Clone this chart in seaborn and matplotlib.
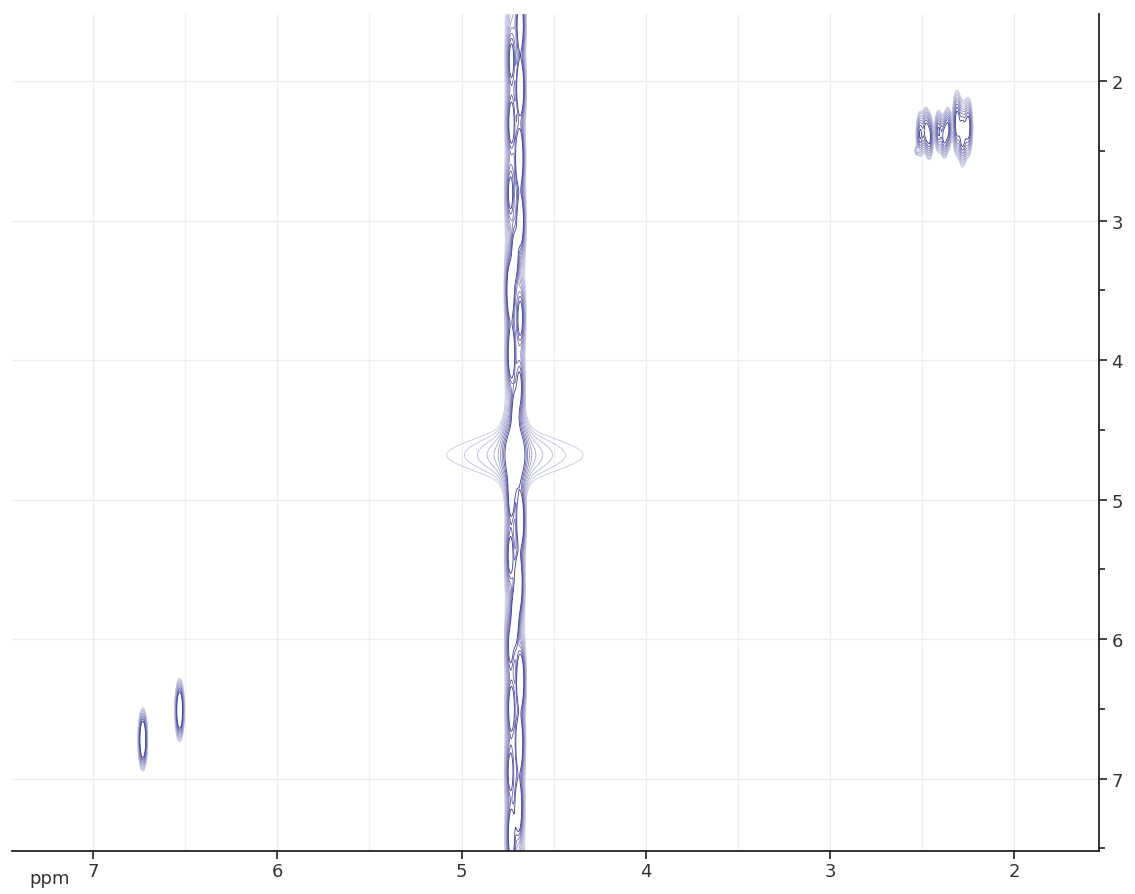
import numpy as np
import matplotlib
matplotlib.use("Agg")
from matplotlib import pyplot as plt
from matplotlib.colors import LinearSegmentedColormap
from matplotlib.ticker import MultipleLocator
import seaborn as sns

sns.set_style("white")
plt.rcParams['font.family'] = ['DejaVu Sans']

# Cross peaks (F2 ppm, F1 ppm, sigma F2, sigma F1, height)
peak_x = [6.73, 6.53,
          2.51, 2.48, 2.46, 2.41, 2.38, 2.36, 2.31, 2.28, 2.25, 2.53]
peak_y = [6.72, 6.51,
          2.38, 2.35, 2.40, 2.36, 2.40, 2.34, 2.30, 2.38, 2.33, 2.50]
peak_sx = [0.011, 0.011,
           0.011, 0.011, 0.011, 0.011, 0.011, 0.011, 0.012, 0.012, 0.012, 0.006]
peak_sy = [0.093, 0.093,
           0.08, 0.08, 0.08, 0.075, 0.075, 0.075, 0.11, 0.11, 0.1, 0.02]
peak_h = [20, 20,
          8, 8, 8, 8, 8, 8, 10, 10, 10, 2.5]

# Water signal (slowly decaying wings + core) and its t1 ridge
water_x = 4.71
water_y = 4.68
water_h = 15.0
water_g = 0.01
water_p = 0.375
water_sy = 0.13
core_h = 12.0
core_sx = 0.03
core_sy = 0.12
ridge_h = 3.0
ridge_sx = 0.035

# Elongated blobs along the ridge (F2 offset, F1 ppm, height)
blob_dx = [-0.03, 0.02, -0.03, 0.02, -0.025, 0.025, -0.03, 0.0, 0.025, -0.03,
           0.02, -0.025, 0.0, 0.02, -0.03, 0.025, -0.02, 0.0, 0.025, -0.03,
           0.02, -0.025, 0.025, -0.02, 0.02]
blob_y = [1.6, 1.85, 2.05, 2.3, 2.55, 2.8, 3.0, 3.25, 3.5, 3.7,
          3.95, 4.2, 4.4, 4.95, 5.15, 5.4, 5.6, 5.85, 6.05, 6.3,
          6.5, 6.75, 6.95, 7.2, 7.4]
blob_h = [14, 8, 18, 10, 20, 8, 15, 11, 19, 9,
          14, 8, 10, 12, 18, 9, 20, 15, 8, 19,
          11, 17, 9, 15, 13]

levels = 1.0 * 1.25 ** np.arange(10)

# Build spectrum on grid
x = np.linspace(1.54, 7.44, 1300)
y = np.linspace(1.52, 7.52, 1000)
X, Y = np.meshgrid(x, y)
Z = np.zeros_like(X)
for px, py, sx, sy, h in zip(peak_x, peak_y, peak_sx, peak_sy, peak_h):
    Z += h * np.exp(-(X - px) ** 2 / (2 * sx ** 2) - (Y - py) ** 2 / (2 * sy ** 2))
Z += (water_h / (1 + ((X - water_x) / water_g) ** 2) ** water_p
      * np.exp(-(Y - water_y) ** 2 / (2 * water_sy ** 2)))
Z += core_h * np.exp(-(X - water_x) ** 2 / (2 * core_sx ** 2) - (Y - water_y) ** 2 / (2 * core_sy ** 2))
Z += ridge_h * np.exp(-(X - water_x) ** 2 / (2 * ridge_sx ** 2))
for dx, by, h in zip(blob_dx, blob_y, blob_h):
    Z += h * np.exp(-(X - water_x - dx) ** 2 / (2 * 0.012 ** 2) - (Y - by) ** 2 / (2 * 0.12 ** 2))

fig = plt.figure(figsize=(11.35, 8.95), dpi=100)
ax = fig.add_axes([0.0106, 0.048, 0.9576, 0.935])

cmap = LinearSegmentedColormap.from_list("nmr", ["#c6c6e2", "#3c3c90"])
ax.contour(X, Y, Z, levels=levels, cmap=cmap, linewidths=0.6)

ax.set_xlim(7.44, 1.54)
ax.set_ylim(7.52, 1.52)

ax.xaxis.set_major_locator(MultipleLocator(1))
ax.xaxis.set_minor_locator(MultipleLocator(0.5))
ax.yaxis.set_major_locator(MultipleLocator(1))
ax.yaxis.set_minor_locator(MultipleLocator(0.5))
ax.yaxis.tick_right()

ax.grid(True, which='major', color='#ededed', linewidth=1)
ax.grid(True, which='minor', axis='x', color='#f0f0f0', linewidth=1)
ax.set_axisbelow(True)

for side in ['top', 'left']:
    ax.spines[side].set_visible(False)
for side in ['bottom', 'right']:
    ax.spines[side].set_color('#222222')
    ax.spines[side].set_linewidth(1.3)

ax.tick_params(which='major', direction='out', length=6, width=1.2, color='#222222',
               labelsize=13, labelcolor='#333333')
ax.tick_params(which='minor', direction='out', length=4, width=1.2, color='#222222')
ax.tick_params(axis='x', bottom=True, pad=2)
ax.tick_params(axis='y', right=True, left=False, pad=3)

ax.text(0.035, -0.032, "ppm", transform=ax.transAxes, ha='center', va='center',
        fontsize=13, color='#333333')

plt.savefig('out.png', dpi=100)
